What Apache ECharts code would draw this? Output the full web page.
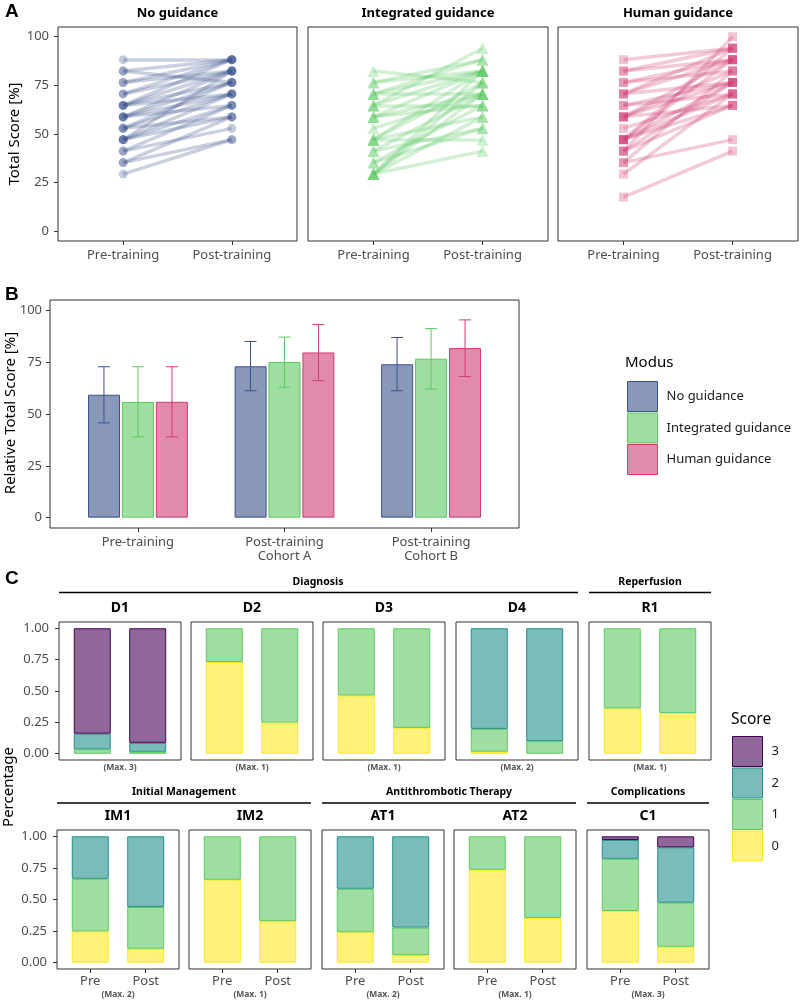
<!DOCTYPE html>
<html>
<head>
<meta charset="utf-8">
<title>Training scores</title>
<script src="https://cdn.jsdelivr.net/npm/echarts@6/dist/echarts.min.js"></script>
<style>
  html, body { margin: 0; background: #fff; }
  #chart { width: 800px; height: 1001px; }
</style>
</head>
<body>
<div id="chart"></div>
<script>
// ---- Panel A: total score per participant, pre vs post (%)
const phaseLabels = ['Pre-training', 'Post-training']
const noPre   = [88.2,82.4,82.4,76.5,76.5,70.6,70.6,64.7,64.7,64.7,64.7,58.8,58.8,58.8,58.8,52.9,52.9,52.9,47.1,47.1,47.1,47.1,41.2,41.2,35.3,35.3,29.4]
const noPost  = [88.2,88.2,76.5,88.2,82.4,82.4,88.2,82.4,76.5,70.6,88.2,82.4,70.6,64.7,76.5,76.5,70.6,58.8,70.6,64.7,82.4,58.8,64.7,52.9,58.8,47.1,47.1]
const intPre  = [82.4,76.5,76.5,70.6,70.6,70.6,64.7,64.7,64.7,58.8,58.8,58.8,52.9,47.1,47.1,47.1,47.1,41.2,41.2,35.3,35.3,29.4,29.4,29.4,29.4,29.4]
const intPost = [76.5,88.2,82.4,82.4,88.2,70.6,82.4,64.7,94.1,82.4,64.7,70.6,70.6,82.4,76.5,47.1,58.8,70.6,52.9,52.9,64.7,82.4,70.6,58.8,41.2,76.5]
const humPre  = [88.2,82.4,82.4,76.5,76.5,70.6,70.6,70.6,64.7,64.7,58.8,58.8,58.8,58.8,52.9,47.1,47.1,47.1,47.1,47.1,41.2,41.2,35.3,35.3,29.4,17.6,41.2]
const humPost = [94.1,94.1,88.2,88.2,82.4,94.1,76.5,88.2,76.5,70.6,76.5,88.2,64.7,82.4,70.6,94.1,76.5,70.6,88.2,64.7,76.5,100,82.4,47.1,70.6,41.2,64.7]

// ---- Panel B: mean relative total score with error bars
const barCats = ['Pre-training', 'Post-training\nCohort A', 'Post-training\nCohort B']
const noMean  = [59.3, 73.0, 74.0], noLo  = [45.7, 61.2, 61.2], noHi  = [72.8, 85.0, 86.9]
const intMean = [55.8, 75.1, 76.7], intLo = [39.0, 62.9, 62.0], intHi = [72.8, 87.1, 91.2]
const humMean = [55.9, 79.7, 81.8], humLo = [39.0, 66.1, 68.1], humHi = [72.8, 93.1, 95.4]

// ---- Panel C: share of participants per item score
const facetNames  = ['D1','D2','D3','D4','R1','IM1','IM2','AT1','AT2','C1']
const facetMax    = [3, 1, 1, 2, 1, 2, 1, 2, 1, 3]
const shortPhases = ['Pre', 'Post']
const pre0  = [0,     0.731, 0.464, 0.016, 0.361, 0.247, 0.656, 0.241, 0.735, 0.409]
const pre1  = [0.035, 0.269, 0.536, 0.182, 0.639, 0.417, 0.344, 0.344, 0.265, 0.413]
const pre2  = [0.125, 0,     0,     0.802, 0,     0.336, 0,     0.415, 0,     0.149]
const pre3  = [0.840, 0,     0,     0,     0,     0,     0,     0,     0,     0.029]
const post0 = [0,     0.248, 0.206, 0,     0.325, 0.110, 0.328, 0.060, 0.354, 0.126]
const post1 = [0.016, 0.752, 0.794, 0.100, 0.675, 0.331, 0.672, 0.218, 0.646, 0.349]
const post2 = [0.071, 0,     0,     0.900, 0,     0.559, 0,     0.722, 0,     0.438]
const post3 = [0.913, 0,     0,     0,     0,     0,     0,     0,     0,     0.087]

const FONT = '"Noto Sans", "Open Sans", sans-serif'
const BLUE = '#3B528B', GREEN = '#5EC962', PINK = '#CF3C73'
const VIRIDIS = ['#FDE725', '#5EC962', '#21908C', '#440154']

function rgba(hex, a) {
	const n = parseInt(hex.slice(1), 16)
	return 'rgba(' + (n >> 16) + ',' + ((n >> 8) & 255) + ',' + (n & 255) + ',' + a + ')'
}

const grids = [], xAxes = [], yAxes = [], series = [], graphics = []
const tickLine = { color: '#333', width: 1 }
const tickText = { color: '#4d4d4d', fontSize: 13, fontFamily: FONT }

function addGrid(rect, x, y) {
	const g = grids.length
	grids.push(Object.assign({ show: true, borderColor: '#333', borderWidth: 1, backgroundColor: 'transparent' }, rect))
	xAxes.push({
		type: 'value', gridIndex: g, min: x.min, max: x.max,
		axisLine: { show: false, onZero: false }, splitLine: { show: false },
		axisTick: { show: !!x.ticks, length: 4, lineStyle: tickLine, customValues: x.ticks || [] },
		axisLabel: Object.assign({ show: !!x.ticks, customValues: x.ticks || [], formatter: x.fmt, margin: x.margin || 7, lineHeight: 14 }, tickText)
	})
	yAxes.push({
		type: 'value', gridIndex: g, min: y.min, max: y.max,
		axisLine: { show: false, onZero: false }, splitLine: { show: false },
		axisTick: { show: !!y.ticks, length: 4, lineStyle: tickLine, customValues: y.ticks || [] },
		axisLabel: Object.assign({ show: !!y.ticks, customValues: y.ticks || [], formatter: y.fmt, margin: y.margin || 8 }, tickText)
	})
	return g
}

function text(str, x, y, size, o) {
	o = o || {}
	graphics.push({
		type: 'text', x: x, y: y, rotation: o.rot || 0, silent: true,
		style: {
			text: str, fill: o.color || '#000', fontSize: size, fontWeight: o.bold ? 'bold' : 'normal',
			fontFamily: o.family || FONT, align: o.align || 'center', verticalAlign: 'middle'
		}
	})
}
function hline(x1, x2, y) {
	graphics.push({ type: 'line', silent: true, shape: { x1: x1, y1: y, x2: x2, y2: y }, style: { stroke: '#000', lineWidth: 1.5 } })
}

// ---------------- Panel A
const pctTicks = [0, 25, 50, 75, 100]
const panelA = [
	['No guidance', noPre, noPost, BLUE, 'circle', 9, 58, 239],
	['Integrated guidance', intPre, intPost, GREEN, 'triangle', 12, 308, 240],
	['Human guidance', humPre, humPost, PINK, 'rect', 9, 558, 240]
]
panelA.forEach(function (p, k) {
	const g = addGrid({ left: p[6], top: 27, width: p[7], height: 214 },
		{ min: 0.4, max: 2.6, ticks: [1, 2], fmt: v => phaseLabels[v - 1] },
		{ min: -5, max: 105, ticks: k === 0 ? pctTicks : null, margin: 9 })
	series.push({
		type: 'lines', coordinateSystem: 'cartesian2d', xAxisIndex: g, yAxisIndex: g, silent: true, z: 2,
		data: p[1].map((v, i) => ({ coords: [[1, v], [2, p[2][i]]] })),
		lineStyle: { color: p[3], width: 3.5, opacity: 0.27 }
	})
	series.push({
		type: 'scatter', xAxisIndex: g, yAxisIndex: g, silent: true, z: 3,
		symbol: p[4], symbolSize: p[5],
		data: p[1].map(v => [1, v]).concat(p[2].map(v => [2, v])),
		itemStyle: { color: p[3], opacity: 0.3 }
	})
	text(p[0], p[6] + p[7] / 2, 13, 13, { bold: true })
})
text('A', 5, 12, 19, { bold: true, align: 'left', family: '"Liberation Sans", Arial, sans-serif' })
text('Total Score [%]', 15, 134, 15, { rot: Math.PI / 2 })

// ---------------- Panel B
const gB = addGrid({ left: 50, top: 300, width: 469, height: 228 },
	{ min: 0.4, max: 3.6, ticks: [1, 2, 3], fmt: v => barCats[v - 1] },
	{ min: -5, max: 105, ticks: pctTicks, margin: 8 })
const panelB = [
	['No guidance', noMean, noLo, noHi, BLUE, -34],
	['Integrated guidance', intMean, intLo, intHi, GREEN, 0],
	['Human guidance', humMean, humLo, humHi, PINK, 34]
]
panelB.forEach(function (p) {
	series.push({
		type: 'bar', name: p[0], xAxisIndex: gB, yAxisIndex: gB, barWidth: 32, barGap: '6%',
		data: p[1].map((v, i) => [i + 1, v]),
		itemStyle: { color: rgba(p[4], 0.6), borderColor: p[4], borderWidth: 1 }
	})
	series.push({
		type: 'custom', xAxisIndex: gB, yAxisIndex: gB, z: 5, silent: true,
		encode: { x: 0, y: [1, 2] },
		data: p[2].map((lo, i) => [i + 1, lo, p[3][i]]),
		renderItem: function (params, api) {
			const a = api.coord([api.value(0), api.value(1)])
			const b = api.coord([api.value(0), api.value(2)])
			const x = a[0] + p[5], st = { stroke: p[4], lineWidth: 1 }
			return {
				type: 'group', children: [
					{ type: 'line', shape: { x1: x, y1: a[1], x2: x, y2: b[1] }, style: st },
					{ type: 'line', shape: { x1: x - 6, y1: a[1], x2: x + 6, y2: a[1] }, style: st },
					{ type: 'line', shape: { x1: x - 6, y1: b[1], x2: x + 6, y2: b[1] }, style: st }
				]
			}
		}
	})
})
text('B', 5, 295, 19, { bold: true, align: 'left', family: '"Liberation Sans", Arial, sans-serif' })
text('Relative Total Score [%]', 11, 413, 15, { rot: Math.PI / 2 })
text('Modus', 625, 363, 15, { align: 'left' })

// ---------------- Panel C
const rowLeft = [[59, 191, 323, 456, 589], [57, 189, 322, 454, 587]]
const rowTop = [622, 830], rowHeight = [138, 139]
const preScores = [pre0, pre1, pre2, pre3], postScores = [post0, post1, post2, post3]
facetNames.forEach(function (name, i) {
	const row = i < 5 ? 0 : 1, col = i % 5
	const left = rowLeft[row][col], top = rowTop[row]
	const g = addGrid({ left: left, top: top, width: 122, height: rowHeight[row] },
		{ min: 0.4, max: 2.6, ticks: row === 1 ? [1, 2] : null, fmt: v => shortPhases[v - 1], margin: 5 },
		{ min: -0.05, max: 1.05, ticks: col === 0 ? [0, 0.25, 0.5, 0.75, 1] : null, fmt: v => v.toFixed(2), margin: 10 })
	for (let s = 0; s < 4; s++) {
		const a = preScores[s][i], b = postScores[s][i]
		// value first so the stack runs along y
		series.push({
			type: 'bar', name: String(s), stack: 'f' + i, xAxisIndex: g, yAxisIndex: g, barWidth: 37,
			encode: { x: 1, y: 0 },
			data: [[a || '-', 1], [b || '-', 2]],
			itemStyle: { color: rgba(VIRIDIS[s], 0.6), borderColor: VIRIDIS[s], borderWidth: 1 }
		})
	}
	text(name, left + 61, row ? 816 : 608, 14, { bold: true })
	text('(Max. ' + facetMax[i] + ')', left + 61, row ? 995 : 768, 8.5, { bold: true, color: '#555' })
})
// group headers above the facets
text('Diagnosis', 318, 582, 10.5, { bold: true }); hline(59, 578, 592.5)
text('Reperfusion', 650, 582, 10.5, { bold: true }); hline(589, 711, 592.5)
text('Initial Management', 184, 792, 10.5, { bold: true }); hline(57, 311, 803)
text('Antithrombotic Therapy', 449, 792, 10.5, { bold: true }); hline(322, 576, 803)
text('Complications', 648, 792, 10.5, { bold: true }); hline(587, 709, 803)
text('C', 5, 579, 19, { bold: true, align: 'left', family: '"Liberation Sans", Arial, sans-serif' })
text('Percentage', 9, 787, 15, { rot: Math.PI / 2 })
text('Score', 731, 720, 15.5, { align: 'left' })

const legendText = { fontSize: 13, color: '#1a1a1a', fontFamily: FONT, padding: [0, 0, 0, 4] }
const chart = echarts.init(document.getElementById('chart'))
chart.setOption({
	animation: false,
	grid: grids, xAxis: xAxes, yAxis: yAxes, series: series, graphic: graphics,
	legend: [
		{ orient: 'vertical', left: 627, top: 381, padding: 0, itemWidth: 30, itemHeight: 30, itemGap: 0.5, icon: 'rect', selectedMode: false,
			itemStyle: { borderWidth: 1 }, data: panelB.map(p => p[0]), textStyle: legendText },
		{ orient: 'vertical', left: 732, top: 736, padding: 0, itemWidth: 30, itemHeight: 30, itemGap: 0.5, icon: 'rect', selectedMode: false,
			itemStyle: { borderWidth: 1 }, data: ['3', '2', '1', '0'], textStyle: legendText }
	]
})
</script>
</body>
</html>
